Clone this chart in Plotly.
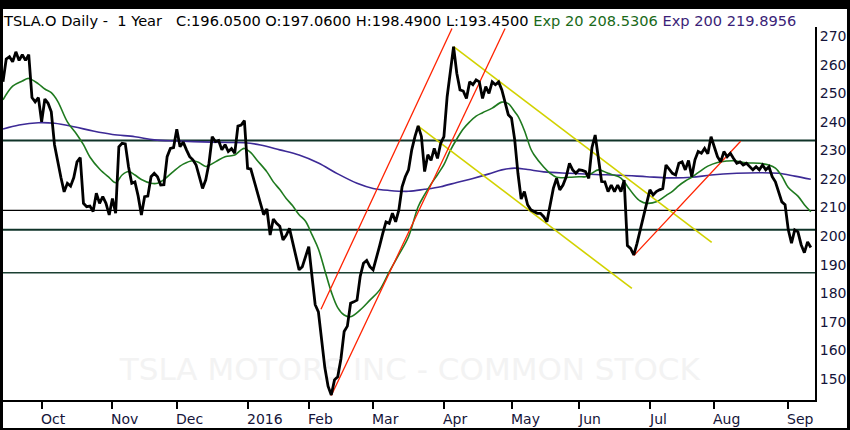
import plotly.graph_objects as go

# Cours de cloture TSLA.O, un point par seance (mi-sept. 2015 -> sept. 2016)
close = [
    254, 262, 262.8, 261, 264.5, 261.5, 263.5, 261.5, 263.5, 248.5,
    247, 248.5, 240, 248, 246.5, 243.5, 232, 226, 220.5, 215.5,
    218.5, 217.5, 220.5, 226, 227.5, 211.5, 210.3, 210.5, 208.6, 215,
    211.5, 213.8, 211.5, 207.4, 213.2, 208, 231.3, 232.5, 232.3, 224.3,
    218.5, 219, 214, 207.4, 213.8, 214, 220.8, 222, 220.8, 217.9,
    218, 227.8, 230.7, 231, 237.4, 231.3, 232.9, 230.2, 227.8, 226.7,
    224.9, 220.8, 216.7, 219.7, 225.5, 234.8, 233.1, 233.5, 230.2, 232,
    229.6, 230.6, 229, 238.5, 238.9, 240.4, 223.7, 223.5, 219.7, 216.2,
    211.5, 207.5, 209.5, 200.4, 206, 204.5, 203.5, 198.7, 200.3, 202.7,
    198, 194, 188.2, 189.3, 192.8, 196.3, 186, 176, 173.5, 164,
    154, 147.5, 144.4, 149.7, 150.8, 157, 166.6, 168.5, 176.5, 177,
    177.6, 186, 190.5, 191.5, 189.3, 188.2, 192, 196.5, 201, 205,
    204.5, 208, 205, 209.2, 217.3, 220.8, 223.2, 230.2, 234.8, 238.6,
    234.9, 222.6, 228.5, 226.5, 230.7, 227.2, 232.5, 234.8, 248.8, 258.2,
    266.3, 257, 251.2, 250.8, 248.2, 254, 253, 254.7, 254, 248.2,
    252.3, 250, 254, 253, 254, 251.2, 246.5, 242.5, 241.3, 233.7,
    222, 213, 215.6, 211, 209.2, 208.6, 208, 208, 206.8, 205,
    211.5, 216.7, 220.2, 216.2, 217.9, 220.8, 225.5, 223.2, 222, 223.2,
    223, 222.6, 220.2, 231, 235.4, 228, 219.1, 219, 215.6, 217.9,
    215.6, 217.9, 215.6, 219.6, 196.7, 195.7, 193.4, 197.5, 202.2, 207,
    212, 216.2, 214.4, 215.6, 216.2, 216.7, 224.9, 223.5, 222, 221.4,
    225.5, 226, 223.2, 226.5, 220.8, 226.7, 229.6, 229, 230.7, 228.8,
    234.8, 231.3, 227.8, 226, 229.6, 227.8, 229, 227.2, 225.5, 226,
    224.9, 225.5, 224.3, 223.2, 224.3, 223.2, 224.9, 223.2, 224.3, 220.8,
    219, 215.6, 212, 211, 202.2, 197.5, 202.2, 201.5, 197, 194.2,
    198, 196.05,
]
day = list(range(len(close)))

# Moyennes exponentielles
ema20_day = [0, 3, 6, 8, 11, 13, 15, 17, 20, 23, 25, 27, 30, 33, 35, 37, 39, 41, 43, 46,
             48, 50, 53, 56, 59, 61, 63, 66, 69, 72, 74, 75, 77, 79, 82, 84, 86, 88, 90, 92,
             94, 96, 98, 100, 102, 104, 106, 108, 111, 114, 117, 120, 123, 126, 129, 131, 133, 135, 137, 139,
             141, 143, 145, 147, 149, 152, 155, 157, 159, 160, 162, 164, 165, 168, 170, 172, 176, 179, 181, 183,
             185, 188, 190, 192, 194, 196, 198, 200, 203, 206, 208, 210, 212, 214, 216, 219, 222, 225, 227, 231,
             235, 238, 240, 242, 244, 247, 249, 251]
ema20 = [247.7, 252.5, 254.3, 255.2, 253.3, 251.5, 250.2, 247.2, 240, 235.5, 232, 227.7, 223.5, 220.5, 218.7, 221.4, 222.6, 221.4, 219.8, 218.5,
         218.5, 219.8, 222.7, 225.2, 226.4, 225.7, 224.4, 226, 227.8, 228.4, 230.2, 230.7, 229.2, 226.5, 222.5, 219, 216.3, 213.2, 210.6, 207.5,
         205.2, 200.5, 195.5, 188, 180.5, 175, 172.4, 171.8, 174.2, 177.6, 181.1, 187.5, 193.5, 199.8, 210.3, 214.5, 218.2, 221.5, 225, 230,
         234, 237.5, 240, 242, 243.2, 244.8, 246.9, 246.4, 243.5, 242, 237, 230.5, 228.5, 224.2, 222, 220.6, 220.6, 220.8, 220.8, 222,
         223.2, 222, 221.3, 220.3, 217.5, 214.5, 212.3, 211.5, 212, 214.2, 215.7, 217.7, 219.3, 220.6, 222.2, 224.5, 225.8, 226.3, 226.4, 225.7,
         225.5, 224.9, 223.8, 221, 217, 214, 211, 208.53]

ema200_day = [0, 5, 11, 16, 22, 28, 34, 41, 47, 54, 62, 70, 75, 80, 86, 92, 98, 104, 110, 115,
              120, 126, 131, 136, 141, 146, 151, 155, 159, 163, 168, 176, 184, 192, 200, 207, 214, 220, 228, 235,
              241, 246, 251]
ema200 = [237.5, 238.9, 239.7, 239.5, 238.3, 236.8, 235.6, 234.8, 233.7, 233.3, 233, 232.8, 232.7, 231.9, 230.2, 228.4, 225.6, 221.8, 218.5, 216.7,
          216, 215.7, 216.4, 217.3, 218.8, 220.2, 221.8, 223.2, 223.8, 223.3, 222.5, 222, 221.6, 221.3, 220.8, 220.4, 220.6, 221.4, 222, 222.2,
          222, 221, 219.9]

# Lignes de tendance (rouge) et canal baissier (jaune)
red_x = [[98.8, 139.5], [102, 156], [196, 229.2]]
red_y = [[174.4, 272.7], [144.2, 272.7], [193.2, 233.2]]
yellow_x = [[140, 220.2], [128.9, 195.4]]
yellow_y = [[266.3, 197.8], [238.6, 181.7]]

# Niveaux horizontaux
levels = [233.5, 209.0, 202.2, 187.2]
level_colors = ["#0f3328", "#000000", "#0f3328", "#1b4032"]
level_widths = [2, 1.3, 2, 1.5]

month_day = [12, 34, 54, 76, 95, 115, 137, 158, 179, 201, 221, 244]
month_label = ["Oct", "Nov", "Dec", "2016", "Feb", "Mar", "Apr", "May", "Jun", "Jul", "Aug", "Sep"]
price_ticks = list(range(150, 271, 10))

navy = "#15153a"
font = "DejaVu Sans"

fig = go.Figure()

# filigrane derriere les courbes
fig.add_trace(go.Scatter(
    x=[126.4], y=[152.3], mode="text", text=["TSLA MOTORS INC - COMMON STOCK"],
    textfont=dict(family=font, size=31, color="#f3f3f3"), hoverinfo="skip"))

fig.add_trace(go.Scatter(x=ema200_day, y=ema200, mode="lines", line=dict(color="#3d2a96", width=1.6, shape="spline")))
fig.add_trace(go.Scatter(x=ema20_day, y=ema20, mode="lines", line=dict(color="#1f7a1f", width=1.6, shape="spline")))

for xs, ys in zip(yellow_x, yellow_y):
    fig.add_trace(go.Scatter(x=xs, y=ys, mode="lines", line=dict(color="#d2d200", width=1.6)))
for xs, ys in zip(red_x, red_y):
    fig.add_trace(go.Scatter(x=xs, y=ys, mode="lines", line=dict(color="#ff2200", width=1.3)))

fig.add_trace(go.Scatter(x=day, y=close, mode="lines", line=dict(color="black", width=2.8)))

for lv, c, w in zip(levels, level_colors, level_widths):
    fig.add_hline(y=lv, line_color=c, line_width=w, layer="below")

# cadre noir autour de l'image
for x0, x1, y0, y1 in [(-0.02, 1.06, 1.0483, 1.09), (-0.02, 0, -0.1, 1.09),
                       (1.0394, 1.06, -0.1, 1.09), (-0.02, 1.06, -0.1, -0.0751)]:
    fig.add_shape(type="rect", xref="paper", yref="paper", x0=x0, x1=x1, y0=y0, y1=y1,
                  fillcolor="black", line_width=0, layer="above")

title_html = ("TSLA.O Daily -\u00a0\u00a01 Year\u00a0\u00a0\u00a0C:196.0500 O:197.0600 H:198.4900 L:193.4500 "
              "<span style='color:#1a6a1a'>Exp 20 208.5306</span> "
              "<span style='color:#3b1f78'>Exp 200 219.8956</span>")
fig.add_annotation(x=0, y=1.0174, xref="paper", yref="paper", xanchor="left", yanchor="middle",
                   text=title_html, showarrow=False, xshift=-2,
                   font=dict(family=font, size=14.6, color="black"))

for d, lab in zip(month_day, month_label):
    fig.add_annotation(x=d, y=-0.051, xref="x", yref="paper", xanchor="left", yanchor="middle",
                       text=lab, showarrow=False, xshift=-3, font=dict(family=font, size=14, color=navy))

fig.update_layout(
    width=850, height=430,
    margin=dict(l=3, r=35, t=27, b=30),
    paper_bgcolor="white", plot_bgcolor="white",
    showlegend=False,
    xaxis=dict(range=[0, 252.3], showline=True, linecolor="black", linewidth=2,
               ticks="outside", tickvals=month_day, ticklen=7, tickwidth=2, tickcolor="black",
               showticklabels=False, showgrid=False, zeroline=False),
    yaxis=dict(range=[142.65, 273.2], side="right", tickvals=price_ticks, showline=True,
               linecolor="black", linewidth=2, ticks="", showgrid=False, zeroline=False,
               tickfont=dict(family=font, size=14, color=navy)),
)

fig.write_html("out.html", config={"displayModeBar": False},
               post_script="document.body.style.margin='0';")
